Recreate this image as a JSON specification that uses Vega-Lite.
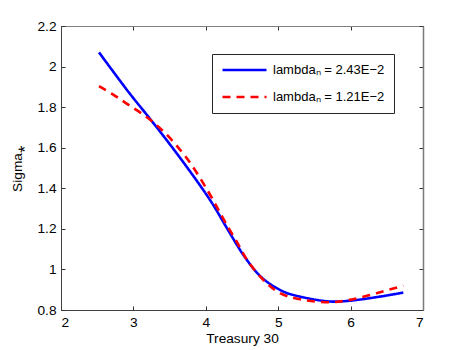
{
  "$schema": "https://vega.github.io/schema/vega-lite/v6.json",
  "width": 362,
  "height": 284,
  "autosize": {"type": "none"},
  "padding": {"left": 61, "top": 26, "right": 44, "bottom": 40},
  "background": "white",
  "config": {
    "font": "Liberation Sans",
    "view": {"stroke": "#808080", "strokeWidth": 1},
    "axis": {
      "labelFont": "Liberation Sans",
      "labelFontSize": 13.7,
      "labelColor": "#000000",
      "titleFont": "Liberation Sans",
      "titleFontSize": 13.7,
      "titleFontWeight": "normal",
      "titleColor": "#000000",
      "grid": false,
      "tickSize": -4,
      "tickColor": "#333333",
      "domainColor": "#404040"
    }
  },
  "data": {
    "values": [
      {"series": "lambdaₙ = 2.43E−2", "x": 2.525, "y": 2.070},
      {"series": "lambdaₙ = 2.43E−2", "x": 2.930, "y": 1.876},
      {"series": "lambdaₙ = 2.43E−2", "x": 3.206, "y": 1.753},
      {"series": "lambdaₙ = 2.43E−2", "x": 3.482, "y": 1.627},
      {"series": "lambdaₙ = 2.43E−2", "x": 3.805, "y": 1.472},
      {"series": "lambdaₙ = 2.43E−2", "x": 4.081, "y": 1.330},
      {"series": "lambdaₙ = 2.43E−2", "x": 4.311, "y": 1.192},
      {"series": "lambdaₙ = 2.43E−2", "x": 4.541, "y": 1.060},
      {"series": "lambdaₙ = 2.43E−2", "x": 4.772, "y": 0.960},
      {"series": "lambdaₙ = 2.43E−2", "x": 5.070, "y": 0.891},
      {"series": "lambdaₙ = 2.43E−2", "x": 5.301, "y": 0.866},
      {"series": "lambdaₙ = 2.43E−2", "x": 5.715, "y": 0.842},
      {"series": "lambdaₙ = 2.43E−2", "x": 5.992, "y": 0.846},
      {"series": "lambdaₙ = 2.43E−2", "x": 6.406, "y": 0.866},
      {"series": "lambdaₙ = 2.43E−2", "x": 6.728, "y": 0.886},
      {"series": "lambdaₙ = 1.21E−2", "x": 2.525, "y": 1.904},
      {"series": "lambdaₙ = 1.21E−2", "x": 2.746, "y": 1.856},
      {"series": "lambdaₙ = 1.21E−2", "x": 2.950, "y": 1.807},
      {"series": "lambdaₙ = 1.21E−2", "x": 3.157, "y": 1.758},
      {"series": "lambdaₙ = 1.21E−2", "x": 3.344, "y": 1.704},
      {"series": "lambdaₙ = 1.21E−2", "x": 3.506, "y": 1.647},
      {"series": "lambdaₙ = 1.21E−2", "x": 3.667, "y": 1.580},
      {"series": "lambdaₙ = 1.21E−2", "x": 3.805, "y": 1.515},
      {"series": "lambdaₙ = 1.21E−2", "x": 4.035, "y": 1.383},
      {"series": "lambdaₙ = 1.21E−2", "x": 4.151, "y": 1.309},
      {"series": "lambdaₙ = 1.21E−2", "x": 4.265, "y": 1.235},
      {"series": "lambdaₙ = 1.21E−2", "x": 4.427, "y": 1.137},
      {"series": "lambdaₙ = 1.21E−2", "x": 4.587, "y": 1.038},
      {"series": "lambdaₙ = 1.21E−2", "x": 4.818, "y": 0.940},
      {"series": "lambdaₙ = 1.21E−2", "x": 5.025, "y": 0.883},
      {"series": "lambdaₙ = 1.21E−2", "x": 5.301, "y": 0.853},
      {"series": "lambdaₙ = 1.21E−2", "x": 5.715, "y": 0.838},
      {"series": "lambdaₙ = 1.21E−2", "x": 5.992, "y": 0.850},
      {"series": "lambdaₙ = 1.21E−2", "x": 6.360, "y": 0.883},
      {"series": "lambdaₙ = 1.21E−2", "x": 6.728, "y": 0.920}
    ]
  },
  "layer": [
    {
      "mark": {"type": "line", "interpolate": "catmull-rom", "strokeWidth": 2.6},
      "encoding": {
        "x": {
          "field": "x", "type": "quantitative",
          "scale": {"domain": [2, 7], "nice": false, "zero": false},
          "axis": {"orient": "bottom", "values": [2, 3, 4, 5, 6, 7], "format": "~g", "title": "Treasury 30", "labelPadding": 9, "titlePadding": 3}
        },
        "y": {
          "field": "y", "type": "quantitative",
          "scale": {"domain": [0.8, 2.2], "nice": false, "zero": false},
          "axis": {"orient": "left", "values": [0.8, 1, 1.2, 1.4, 1.6, 1.8, 2, 2.2], "format": "~g", "title": "Sigma⁎", "labelPadding": 9, "titlePadding": 12}
        },
        "color": {
          "field": "series", "type": "nominal",
          "scale": {"domain": ["lambdaₙ = 2.43E−2", "lambdaₙ = 1.21E−2"], "range": ["#0000ff", "#ff0000"]},
          "legend": {"orient": "none", "legendX": 151, "legendY": 28, "direction": "vertical", "title": null, "strokeColor": "#262626", "fillColor": "#ffffff", "padding": 9, "symbolType": "M-1,0H7", "symbolSize": 121, "symbolStrokeWidth": 2.6, "labelFont": "Liberation Sans", "labelFontSize": 13, "labelColor": "#000000", "labelOffset": 38, "labelLimit": 300, "rowPadding": 13}
        },
        "strokeDash": {
          "field": "series", "type": "nominal",
          "scale": {"domain": ["lambdaₙ = 2.43E−2", "lambdaₙ = 1.21E−2"], "range": [[1, 0], [8, 6]]},
          "legend": {"orient": "none", "legendX": 151, "legendY": 28, "direction": "vertical", "title": null, "strokeColor": "#262626", "fillColor": "#ffffff", "padding": 9, "symbolType": "M-1,0H7", "symbolSize": 121, "symbolStrokeWidth": 2.6, "labelFont": "Liberation Sans", "labelFontSize": 13, "labelColor": "#000000", "labelOffset": 38, "labelLimit": 300, "rowPadding": 13}
        }
      }
    },
    {
      "mark": {"type": "line", "opacity": 0},
      "encoding": {
        "x": {"field": "x", "type": "quantitative", "axis": {"orient": "top", "values": [2, 3, 4, 5, 6, 7], "labels": false, "title": null, "domainColor": "#808080"}},
        "y": {"field": "y", "type": "quantitative", "axis": {"orient": "right", "values": [0.8, 1, 1.2, 1.4, 1.6, 1.8, 2, 2.2], "labels": false, "title": null, "domainColor": "#7a7a7a", "domainWidth": 1.5}},
        "detail": {"field": "series"}
      }
    }
  ],
  "resolve": {"axis": {"x": "independent", "y": "independent"}}
}
